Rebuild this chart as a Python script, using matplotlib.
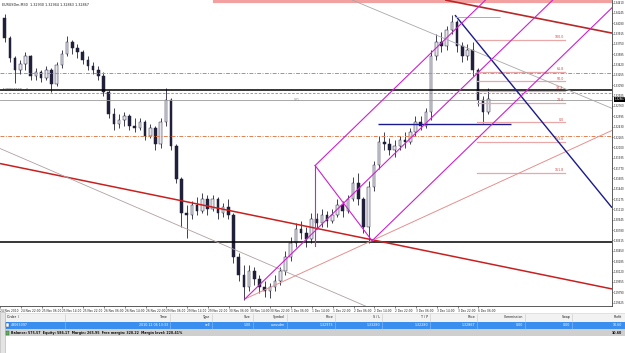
import matplotlib
matplotlib.use("Agg")
import matplotlib.pyplot as plt
from matplotlib.patches import Rectangle

plt.rcParams['font.family'] = ['DejaVu Sans']

# ---------------- data ----------------
chart_title = "EURUSDm,M30  1.32930 1.32944 1.32863 1.32867"

# 2-hour candles, x = hours since 24 Nov 2010 14:00 (weekend removed)
candle_hours = [2 * i + 1.8 for i in range(94)]
opens = [1.34162, 1.33842, 1.33522, 1.33330, 1.33426, 1.33554, 1.33234, 1.33298, 1.33202, 1.33330,
         1.33106, 1.33410, 1.33586, 1.33778, 1.33682, 1.33618, 1.33490, 1.33394, 1.33330, 1.33234,
         1.32978, 1.32626, 1.32466, 1.32530, 1.32594, 1.32434, 1.32402, 1.32498, 1.32274, 1.32402,
         1.32146, 1.32498, 1.32850, 1.32114, 1.31602, 1.31058, 1.31026, 1.31186, 1.31090, 1.31282,
         1.31122, 1.31282, 1.31058, 1.31154, 1.31026, 1.30354, 1.30066, 1.29874, 1.30130, 1.30002,
         1.29874, 1.29810, 1.29874, 1.29970, 1.30130, 1.30354, 1.30578, 1.30802, 1.30738, 1.30642,
         1.30962, 1.30898, 1.31026, 1.30930, 1.31026, 1.31186, 1.31090, 1.31282, 1.31538, 1.31282,
         1.30834, 1.31474, 1.31826, 1.32178, 1.32146, 1.32050, 1.32114, 1.32210, 1.32178, 1.32338,
         1.32498, 1.32434, 1.32658, 1.33554, 1.33778, 1.33714, 1.33970, 1.34098, 1.33714, 1.33554,
         1.33650, 1.33330, 1.32850, 1.32658]
highs = [1.34226, 1.33874, 1.33554, 1.33490, 1.33618, 1.33570, 1.33362, 1.33330, 1.33394, 1.33362,
         1.33458, 1.33650, 1.33874, 1.33810, 1.33746, 1.33650, 1.33554, 1.33458, 1.33394, 1.33298,
         1.33010, 1.32722, 1.32626, 1.32658, 1.32626, 1.32562, 1.32562, 1.32530, 1.32466, 1.32434,
         1.32562, 1.33042, 1.32882, 1.32146, 1.31634, 1.31186, 1.31250, 1.31314, 1.31378, 1.31346,
         1.31346, 1.31314, 1.31218, 1.31282, 1.31058, 1.30418, 1.30226, 1.30226, 1.30194, 1.30066,
         1.29970, 1.29938, 1.30066, 1.30194, 1.30450, 1.30674, 1.30898, 1.30930, 1.30834, 1.31058,
         1.31058, 1.31122, 1.31090, 1.31122, 1.31282, 1.31250, 1.31346, 1.31634, 1.31698, 1.31314,
         1.31570, 1.31890, 1.32274, 1.32338, 1.32242, 1.32210, 1.32274, 1.32338, 1.32402, 1.32594,
         1.32594, 1.32722, 1.33650, 1.33906, 1.33938, 1.34034, 1.34210, 1.34130, 1.33778, 1.33746,
         1.33778, 1.33362, 1.32914, 1.33042]
lows = [1.33778, 1.33458, 1.33122, 1.33266, 1.33330, 1.33170, 1.33170, 1.33138, 1.33170, 1.32978,
        1.33074, 1.33362, 1.33554, 1.33586, 1.33522, 1.33426, 1.33330, 1.33266, 1.33170, 1.32914,
        1.32562, 1.32370, 1.32402, 1.32434, 1.32370, 1.32338, 1.32370, 1.32210, 1.32242, 1.32050,
        1.32082, 1.32434, 1.32050, 1.31538, 1.30834, 1.30658, 1.30962, 1.31026, 1.31058, 1.31026,
        1.31090, 1.30962, 1.30994, 1.30962, 1.30258, 1.29970, 1.29666, 1.29810, 1.29906, 1.29778,
        1.29714, 1.29698, 1.29810, 1.29906, 1.30066, 1.30290, 1.30514, 1.30642, 1.30514, 1.30578,
        1.30802, 1.30834, 1.30834, 1.30898, 1.30994, 1.30994, 1.31058, 1.31250, 1.31186, 1.30738,
        1.30578, 1.31410, 1.31762, 1.32050, 1.31986, 1.31954, 1.32050, 1.32082, 1.32146, 1.32274,
        1.32370, 1.32402, 1.32530, 1.33490, 1.33618, 1.33650, 1.33906, 1.33618, 1.33458, 1.33490,
        1.33234, 1.32754, 1.32482, 1.32626]
closes = [1.33842, 1.33522, 1.33330, 1.33426, 1.33554, 1.33234, 1.33298, 1.33202, 1.33330, 1.33106,
          1.33410, 1.33586, 1.33778, 1.33682, 1.33618, 1.33490, 1.33394, 1.33330, 1.33234, 1.32978,
          1.32626, 1.32466, 1.32530, 1.32594, 1.32434, 1.32402, 1.32498, 1.32274, 1.32402, 1.32146,
          1.32498, 1.32850, 1.32114, 1.31602, 1.31058, 1.31026, 1.31186, 1.31090, 1.31282, 1.31122,
          1.31282, 1.31058, 1.31154, 1.31026, 1.30354, 1.30066, 1.29874, 1.30130, 1.30002, 1.29874,
          1.29810, 1.29874, 1.29970, 1.30130, 1.30354, 1.30578, 1.30802, 1.30738, 1.30642, 1.30962,
          1.30898, 1.31026, 1.30930, 1.31026, 1.31186, 1.31090, 1.31282, 1.31538, 1.31282, 1.30834,
          1.31474, 1.31826, 1.32178, 1.32146, 1.32050, 1.32114, 1.32210, 1.32178, 1.32338, 1.32498,
          1.32434, 1.32658, 1.33554, 1.33778, 1.33714, 1.33970, 1.34098, 1.33714, 1.33554, 1.33650,
          1.33330, 1.32850, 1.32658, 1.32867]

price_ticks = [1.34410, 1.34245, 1.34080, 1.33915, 1.33750, 1.33585, 1.33420, 1.33255, 1.33090, 1.32925,
               1.32760, 1.32595, 1.32430, 1.32265, 1.32100, 1.31935, 1.31770, 1.31605, 1.31440, 1.31275,
               1.31110, 1.30945, 1.30780, 1.30615, 1.30450, 1.30285, 1.30120, 1.29955, 1.29790, 1.29625]
time_ticks = [0, 8, 16, 24, 32, 40, 48, 56, 64, 72, 80, 88, 96, 104, 112, 120, 128, 136, 144, 152, 160,
              168, 176, 184]
time_tick_labels = ["24 Nov 2010", "24 Nov 22:00", "25 Nov 06:00", "25 Nov 14:00", "25 Nov 22:00",
                    "26 Nov 06:00", "26 Nov 14:00", "26 Nov 22:00", "29 Nov 06:00", "29 Nov 14:00",
                    "29 Nov 22:00", "30 Nov 06:00", "30 Nov 14:00", "30 Nov 22:00", "1 Dec 06:00",
                    "1 Dec 14:00", "1 Dec 22:00", "2 Dec 06:00", "2 Dec 14:00", "2 Dec 22:00",
                    "3 Dec 06:00", "3 Dec 14:00", "3 Dec 22:00", "6 Dec 06:00"]

bid_price = 1.32867
order_price = 1.32973
order_label = "#48063097 sell"
sl_price = 1.33280
tp_price = 1.32280
black_levels = [1.33010, 1.30594]
stop_line_price = 1.32850
top_band_price = 1.34432
top_band_start = 82.7

# trend lines: (t1, p1, t2, p2)
dark_red_line = (171.2, 1.34450, 235.4, 1.33922)
long_red_line = (0.0, 1.31842, 235.4, 1.29842)
gray_line_a = (135.4, 1.34450, 235.4, 1.32722)
gray_line_b = (0.0, 1.32082, 142.3, 1.29538)
pink_line = (94.2, 1.29682, 235.4, 1.32370)
navy_diag = (175.0, 1.34210, 235.4, 1.31138)
navy_horiz = (145.4, 1.32466, 196.5, 1.32466)
peak_line = (175.0, 1.34178, 192.3, 1.34178)

# Andrews pitchfork anchors
fork_a = (94.2, 1.29682)
fork_b = (121.2, 1.31810)
fork_c = (143.1, 1.30610)

# Fibonacci
fib_start, fib_end = 183.5, 217.3
fib_p0, fib_p100 = 1.32498, 1.33810
fib_levels = [1.0, 0.618, 0.5, 0.382, 0.236, 0.0, -0.236, -0.618]
fib_labels = ["100.0", "61.8", "50.0", "38.2", "23.6", "0.0", "123.6", "161.8"]

# terminal
term_headers = ["Time", "Type", "Size", "Symbol", "Price", "S / L", "T / P", "Price",
                "Commission", "Swap", "Profit"]
term_values = ["2010.12.06 13:33", "sell", "1.00", "eurusdm", "1.32973", "1.33280", "1.32280",
               "1.32867", "0.00", "0.00", "10.60"]
order_id = "48063097"
balance_text = ("Balance: 575.57  Equity: 586.17  Margin: 265.95  Free margin: 320.22  "
                "Margin level: 220.41%")
total_profit = "10.60"

# ---------------- figure ----------------
W, H = 625, 353
fig = plt.figure(figsize=(W / 100, H / 100), dpi=100)
fig.patch.set_facecolor("white")

ax = fig.add_axes([0, 47 / H, 612 / W, 306 / H])
ax.set_facecolor("white")
XMAX = 235.4
ax.set_xlim(0, XMAX)
ax.set_ylim(1.2957, 1.3445)

# candles
wick_c = "#22223a"
ax.vlines(candle_hours, lows, highs, color=wick_c, lw=0.6, zorder=2)
for t, o, c in zip(candle_hours, opens, closes):
    bull = c >= o
    lo, hi = min(o, c), max(o, c)
    if hi - lo < 0.00008:
        hi = lo + 0.00008
    ax.add_patch(Rectangle((t - 0.5, lo), 1.0, hi - lo,
                           facecolor="#e6e6ec" if bull else "#20203c",
                           edgecolor=wick_c, lw=0.35, zorder=2.5))


def seg(line, **kw):
    t1, p1, t2, p2 = line
    ax.plot([t1, t2], [p1, p2], zorder=4, solid_capstyle="butt", **kw)


# horizontal objects
ax.plot([top_band_start, XMAX], [top_band_price, top_band_price], color="#f2a0a0", lw=3.0, zorder=3)
for lv in black_levels:
    ax.axhline(lv, color="black", lw=1.1, zorder=4)
ax.axhline(order_price, color="#44bb44", lw=0.6, ls=(0, (3, 2)), zorder=4)
ax.axhline(stop_line_price, color="#9a9a9a", lw=0.6, zorder=3)
ax.axhline(sl_price, color="#e08050", lw=0.7, ls=(0, (4, 1.5, 1, 1.5)), zorder=3)
ax.axhline(tp_price, color="#e08050", lw=0.7, ls=(0, (4, 1.5, 1, 1.5)), zorder=3)

# trend lines
seg(dark_red_line, color="#b82828", lw=1.2)
seg(long_red_line, color="#c82020", lw=1.1)
seg(gray_line_a, color="#a8a8a8", lw=0.6)
seg(gray_line_b, color="#b0a0a0", lw=0.6)
seg(pink_line, color="#e49090", lw=0.7)
seg(navy_diag, color="#1a1a8c", lw=1.0)
seg(navy_horiz, color="#1a1a8c", lw=1.0)
seg(peak_line, color="#c8a0a0", lw=0.7)

# pitchfork
mid = ((fork_b[0] + fork_c[0]) / 2, (fork_b[1] + fork_c[1]) / 2)
slope = (mid[1] - fork_a[1]) / (mid[0] - fork_a[0])
for (t0, p0) in [fork_a, fork_b, fork_c]:
    ax.plot([t0, XMAX], [p0, p0 + slope * (XMAX - t0)], color="#cc22cc", lw=0.8, zorder=4)
ax.plot([fork_b[0], fork_c[0]], [fork_b[1], fork_c[1]], color="#cc22cc", lw=0.8, zorder=4)
ax.plot([fork_b[0], fork_b[0]], [fork_b[1], fork_b[1] - 0.0128], color="#cc22cc", lw=0.8, zorder=4)

# fibonacci
for lvl, lab in zip(fib_levels, fib_labels):
    p = fib_p0 + lvl * (fib_p100 - fib_p0)
    ax.plot([fib_start, fib_end], [p, p], color="#e8a8a8", lw=0.9, zorder=3)
    ax.text(fib_end - 0.5, p + 0.00012, lab, ha="right", va="bottom", fontsize=2.3,
            color="#cc4444", zorder=5)

# texts in chart
ax.text(0.6, 1.3441, chart_title, fontsize=2.4, color="#202020", va="top", ha="left", zorder=6)
ax.text(0.6, order_price + 0.0001, order_label, fontsize=2.3, color="#303030", va="bottom",
        ha="left", zorder=6)
ax.text(113.0, stop_line_price, "SPL", fontsize=2.6, color="#909090", va="center", ha="left",
        zorder=6)

# axes styling
for s in ["top", "left"]:
    ax.spines[s].set_visible(False)
ax.spines["right"].set_color("#404040")
ax.spines["right"].set_linewidth(0.6)
ax.spines["bottom"].set_color("#404040")
ax.spines["bottom"].set_linewidth(0.6)
ax.yaxis.tick_right()
ax.set_yticks(price_ticks)
ax.set_yticklabels([f"{p:.5f}" for p in price_ticks])
ax.tick_params(axis="y", length=1.0, width=0.4, pad=0.4, labelsize=1.9, colors="#202020")
ax.set_xticks(time_ticks)
ax.set_xticklabels(time_tick_labels)
ax.tick_params(axis="x", length=1.5, width=0.4, pad=0.6, labelsize=2.1, colors="#202020")
for lab in ax.get_xticklabels():
    lab.set_ha("left")

# current price box
ax.text(1.004, bid_price, f"{bid_price:.5f}", transform=ax.get_yaxis_transform(), ha="left",
        va="center", fontsize=1.9, color="white", zorder=7, clip_on=False,
        bbox=dict(facecolor="black", edgecolor="none", pad=0.5))

# ---------------- terminal panel ----------------
tx = fig.add_axes([0, 0, 1, 1], zorder=-1)
tx.set_xlim(0, W)
tx.set_ylim(H, 0)
tx.axis("off")

tx.add_patch(Rectangle((0, 312), W, 41, facecolor="white", edgecolor="none"))
tx.add_patch(Rectangle((5, 313), W - 5, 8.5, facecolor="#f2f2f2", edgecolor="#d0d0d0", lw=0.4))
tx.add_patch(Rectangle((5, 321.5), W - 5, 7.5, facecolor="#3a8ef0", edgecolor="none"))
tx.add_patch(Rectangle((5, 329), W - 5, 7, facecolor="#cfcfcf", edgecolor="none"))
tx.add_patch(Rectangle((0, 312), 5, 41, facecolor="#e4e4e4", edgecolor="#b0b0b0", lw=0.4))

col_right = [168, 210, 251, 285, 333, 380, 428, 475, 523, 570, 622]
separators = [65, 170, 212, 253, 287, 335, 382, 430, 477, 525, 572]
for sx in separators:
    tx.plot([sx, sx], [313.5, 321], color="#c8c8c8", lw=0.4)
    tx.plot([sx, sx], [321.5, 329], color="#8fbef5", lw=0.4)
tx.text(7, 317.2, "Order  /", fontsize=2.3, va="center", ha="left", color="#202020")
for xr, h, v in zip(col_right, term_headers, term_values):
    tx.text(xr, 317.2, h, fontsize=2.3, va="center", ha="right", color="#202020")
    tx.text(xr, 325.3, v, fontsize=2.3, va="center", ha="right", color="white")
tx.add_patch(Rectangle((6, 323), 3, 4, facecolor="white", edgecolor="#204080", lw=0.3))
tx.text(11, 325.3, order_id, fontsize=2.3, va="center", ha="left", color="white")
tx.add_patch(Rectangle((6, 330.5), 3, 4, facecolor="#60b060", edgecolor="#306030", lw=0.3))
tx.text(11, 332.6, balance_text, fontsize=2.3, va="center", ha="left", color="#101010",
        fontweight="bold")
tx.text(622, 332.6, total_profit, fontsize=2.3, va="center", ha="right", color="#101010",
        fontweight="bold")

fig.savefig("out.png", dpi=100, facecolor="white")
